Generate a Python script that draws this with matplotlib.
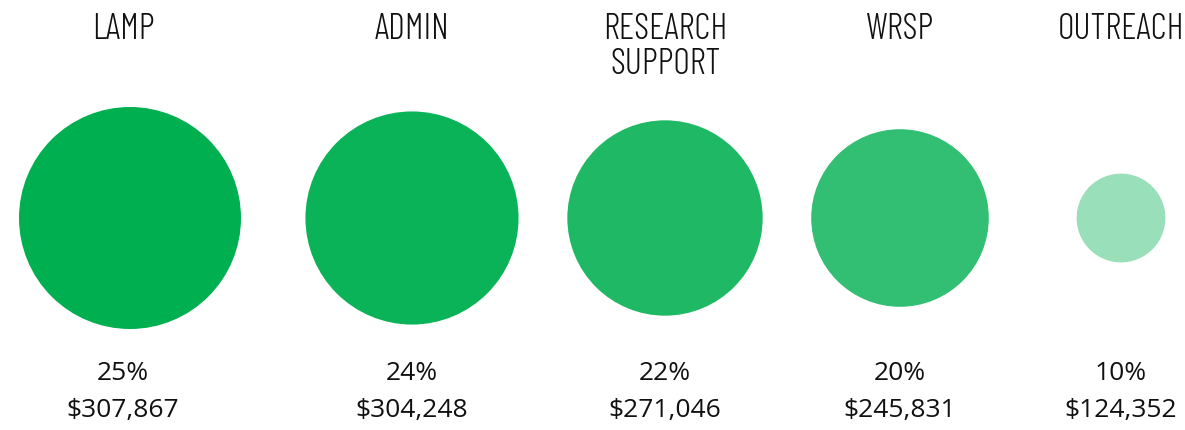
import matplotlib.pyplot as plt
from matplotlib.patches import Circle
from matplotlib import font_manager

programs = ["LAMP", "ADMIN", "RESEARCH\nSUPPORT", "WRSP", "OUTREACH"]
shares = [25, 24, 22, 20, 10]
amounts = [307867, 304248, 271046, 245831, 124352]

# layout (pixels)
circle_x = [130, 412, 665, 900, 1121]
label_x = [123, 412, 665, 900, 1121]
center_y = 218
max_r = 111
base_color = (0 / 255, 176 / 255, 80 / 255)

fonts = font_manager.fontManager.ttflist


def pick_light(options):
    # first family that ships a light cut
    for o in options:
        if any(f.name == o and f.weight in (200, 300, "light", "extra light") for f in fonts):
            return o
    return "Oswald"


names = {f.name for f in fonts}
title_font = pick_light(["Barlow Condensed", "Saira Condensed", "Roboto Condensed",
                         "Oswald", "Encode Sans Condensed", "Fira Sans Condensed"])
body_font = "Open Sans" if "Open Sans" in names else "DejaVu Sans"

fig = plt.figure(figsize=(11.85, 4.3), dpi=100)
ax = fig.add_axes([0, 0, 1, 1])
ax.set_xlim(0, 1185)
ax.set_ylim(430, 0)
ax.set_aspect("equal")
ax.axis("off")

top = max(shares)
for cx, lx, name, pct, amt in zip(circle_x, label_x, programs, shares, amounts):
    # size and shade both scale with the share
    r = max_r * pct / top
    ax.add_patch(Circle((cx, center_y), r, facecolor=base_color,
                        alpha=pct / top, edgecolor="none"))
    ax.text(lx, 13, name, ha="center", va="top", fontsize=26,
            family=title_font, weight=300, color="#111111",
            linespacing=1.08)
    ax.text(lx, 374, f"{pct}%", ha="center", va="center", fontsize=19,
            family=body_font, color="#111111")
    ax.text(lx, 410, f"${amt:,}", ha="center", va="center", fontsize=19,
            family=body_font, color="#111111")

fig.savefig("out.png", dpi=100)
